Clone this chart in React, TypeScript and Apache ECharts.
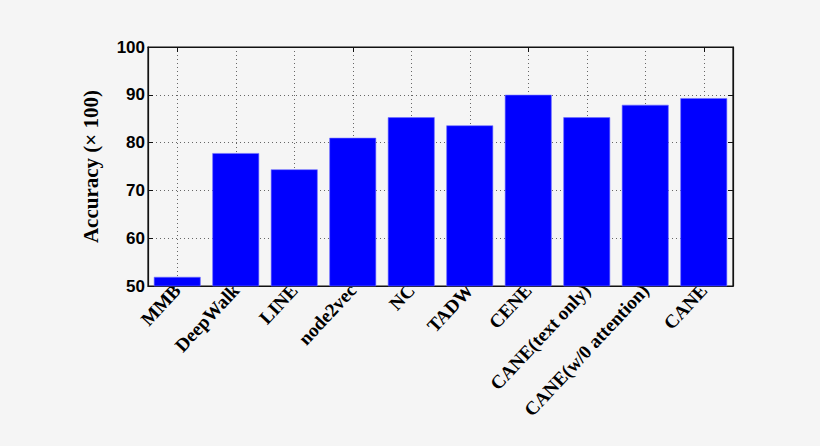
import React, { useEffect, useRef } from "react";
import * as echarts from "echarts";

const categories = [
  "MMB",
  "DeepWalk",
  "LINE",
  "node2vec",
  "NC",
  "TADW",
  "CENE",
  "CANE(text only)",
  "CANE(w/0 attention)",
  "CANE",
];
const accuracy = [51.9, 77.8, 74.4, 81.0, 85.3, 83.6, 90.0, 85.3, 87.9, 89.3];
const yTicks = { min: 50, max: 100, interval: 10 };
const yName = "Accuracy (\u00d7 100)";

export default function App() {
  const ref = useRef<HTMLDivElement>(null);
  useEffect(() => {
    if (!ref.current) return;
    document.body.style.margin = "0";
    document.body.style.background = "#f5f5f5";
    const chart = echarts.init(ref.current, undefined, { renderer: "svg" });
    const gridLine = { show: true, lineStyle: { color: "#666", type: [1, 3], width: 1 } };
    chart.setOption({
      animation: false,
      backgroundColor: "#f5f5f5",
      grid: {
        left: 148,
        right: 87,
        top: 47,
        bottom: 160,
        show: true,
        borderColor: "#111",
        borderWidth: 1.2,
        backgroundColor: "transparent",
      },
      xAxis: [
        {
          type: "category",
          data: categories,
          position: "bottom",
          axisLine: { show: true, lineStyle: { color: "#111", width: 1.2 } },
          axisTick: { show: true, inside: true, alignWithLabel: true, length: 5, lineStyle: { color: "#111" } },
          splitLine: { ...gridLine, alignWithLabel: true },
          axisLabel: {
            rotate: 47,
            interval: 0,
            margin: 1,
            color: "#000",
            fontFamily: "Liberation Serif",
            fontWeight: "bold",
            fontSize: 19,
          },
        },
        {
          type: "category",
          data: categories,
          position: "top",
          axisLine: { show: true, lineStyle: { color: "#111", width: 1.2 } },
          axisTick: { show: true, inside: true, alignWithLabel: true, length: 5, lineStyle: { color: "#111" } },
          axisLabel: { show: false },
          splitLine: { show: false },
        },
      ],
      yAxis: [
        {
          type: "value",
          min: yTicks.min,
          max: yTicks.max,
          interval: yTicks.interval,
          name: yName,
          nameLocation: "middle",
          nameGap: 47,
          nameRotate: 90,
          nameTextStyle: {
            color: "#000",
            fontFamily: "Liberation Serif",
            fontWeight: "bold",
            fontSize: 21,
          },
          axisLine: { show: true, lineStyle: { color: "#111", width: 1.2 } },
          axisTick: { show: true, inside: true, length: 5, lineStyle: { color: "#111" } },
          splitLine: gridLine,
          axisLabel: {
            color: "#000",
            fontFamily: "Liberation Sans",
            fontWeight: "bold",
            fontSize: 17,
            margin: 3,
          },
        },
        {
          type: "value",
          min: yTicks.min,
          max: yTicks.max,
          interval: yTicks.interval,
          position: "right",
          axisLine: { show: true, lineStyle: { color: "#111", width: 1.2 } },
          axisTick: { show: true, inside: true, length: 5, lineStyle: { color: "#111" } },
          splitLine: { show: false },
          axisLabel: { show: false },
        },
      ],
      series: [
        {
          type: "bar",
          data: accuracy,
          barWidth: "80%",
          itemStyle: { color: "#0000ff", borderColor: "#6f6fff", borderWidth: 0.6 },
          z: 3,
        },
      ],
    });
    return () => chart.dispose();
  }, []);
  return (
    <div
      ref={ref}
      style={{ position: "absolute", left: 0, top: 0, width: 820, height: 446 }}
    />
  );
}
